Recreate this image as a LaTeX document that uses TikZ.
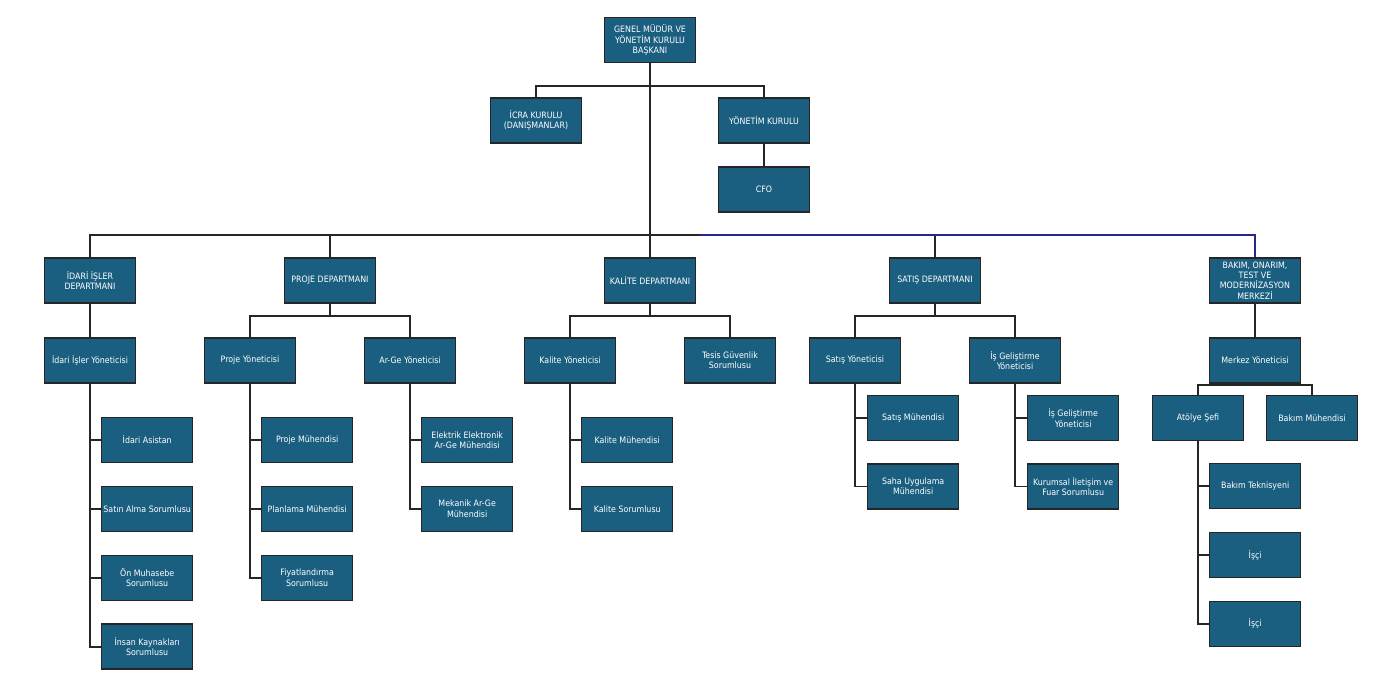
\documentclass[tikz,border=0pt]{standalone}
\usepackage{fontspec}
\setmainfont{DejaVu Sans Condensed}
\usepackage{xcolor}
\usepackage{tikz}
\usetikzlibrary{positioning,calc}
\definecolor{boxblue}{RGB}{26,94,128}
\definecolor{busnavy}{RGB}{40,40,140}
\tikzset{
  unit/.style={draw=black!85, line width=0.8pt, fill=boxblue, text=white, align=center,
    minimum width=1.82cm, minimum height=0.9cm, inner sep=0.5pt, font=\fontsize{5.0}{5.9}\selectfont},
  link/.style={line width=1pt, draw=black!85},
  navylink/.style={line width=1pt, draw=busnavy},
}

\begin{document}
\begin{tikzpicture}[x=0.02cm, y=-0.02cm, node distance=0.45cm]
\useasboundingbox (0,0) rectangle (1400,694);
% top level
\node[unit] (gm) at (650,40) {GENEL MÜDÜR VE\\YÖNETİM KURULU\\BAŞKANI};
\node[unit] (icra) at (536,120.5) {İCRA KURULU\\(DANIŞMANLAR)};
\node[unit] (yk) at (764,120.5) {YÖNETİM KURULU};
\node[unit, below=of yk] (cfo) {CFO};
% departments
\node[unit] (idari) at (90,280.5) {İDARİ İŞLER\\DEPARTMANI};
\node[unit] (proje) at (330,280.5) {PROJE DEPARTMANI};
\node[unit] (kalite) at (650,280.5) {KALİTE DEPARTMANI};
\node[unit] (satis) at (935,280.5) {SATIŞ DEPARTMANI};
\node[unit] (bakim) at (1255,280.5) {BAKIM, ONARIM,\\TEST VE\\MODERNİZASYON\\MERKEZİ};
% managers
\node[unit] (idariy) at (90,360.5) {İdari İşler Yöneticisi};
\node[unit] (projey) at (250,360.5) {Proje Yöneticisi};
\node[unit] (argey) at (410,360.5) {Ar-Ge Yöneticisi};
\node[unit] (kalitey) at (570,360.5) {Kalite Yöneticisi};
\node[unit] (tesis) at (730,360.5) {Tesis Güvenlik\\Sorumlusu};
\node[unit] (satisy) at (855,360.5) {Satış Yöneticisi};
\node[unit] (isgy) at (1015,360.5) {İş Geliştirme\\Yöneticisi};
\node[unit] (merkez) at (1255,360.5) {Merkez Yöneticisi};
\node[unit] (atolye) at (1198,418) {Atölye Şefi};
\node[unit] (bakimm) at (1312,418) {Bakım Mühendisi};
% staff
\node[unit, anchor=west] (idari1) at (101,440) {İdari Asistan};
\node[unit, below=of idari1] (idari2) {Satın Alma Sorumlusu};
\node[unit, below=of idari2] (idari3) {Ön Muhasebe\\Sorumlusu};
\node[unit, below=of idari3] (idari4) {İnsan Kaynakları\\Sorumlusu};
\node[unit, anchor=west] (proje1) at (261,440) {Proje Mühendisi};
\node[unit, below=of proje1] (proje2) {Planlama Mühendisi};
\node[unit, below=of proje2] (proje3) {Fiyatlandırma\\Sorumlusu};
\node[unit, anchor=west] (arge1) at (421,440) {Elektrik Elektronik\\Ar-Ge Mühendisi};
\node[unit, below=of arge1] (arge2) {Mekanik Ar-Ge\\Mühendisi};
\node[unit, anchor=west] (kalite1) at (581,440) {Kalite Mühendisi};
\node[unit, below=of kalite1] (kalite2) {Kalite Sorumlusu};
\node[unit, anchor=west] (satis1) at (867,418) {Satış Mühendisi};
\node[unit, below=0.44cm of satis1] (satis2) {Saha Uygulama\\Mühendisi};
\node[unit, anchor=west] (isg1) at (1027,418) {İş Geliştirme\\Yöneticisi};
\node[unit, below=0.44cm of isg1] (isg2) {Kurumsal İletişim ve\\Fuar Sorumlusu};
\node[unit, anchor=west] (atolye1) at (1209,486) {Bakım Teknisyeni};
\node[unit, below=of atolye1] (atolye2) {İşçi};
\node[unit, below=of atolye2] (atolye3) {İşçi};
% connectors
\coordinate (bus) at (650,235);
\coordinate (busmid) at (700,235);
\draw[link] (icra.north) -- ++(0,-11) -| (yk.north);
\draw[link] (yk) -- (cfo);
\draw[link] (gm.south) -- (bus) -- (kalite.north);
\draw[link] (idari.north) |- (busmid);
\draw[link] (proje.north) -- (proje.north |- bus);
\draw[link] (satis.north) -- (satis.north |- bus);
\draw[navylink] (busmid) -| (bakim.north);
\draw[link] (idari) -- (idariy);
\draw[link] (bakim) -- (merkez);
\draw[link] (proje.south) -- ++(0,12) -| (projey.north);
\draw[link] (proje.south) -- ++(0,12) -| (argey.north);
\draw[link] (kalite.south) -- ++(0,12) -| (kalitey.north);
\draw[link] (kalite.south) -- ++(0,12) -| (tesis.north);
\draw[link] (satis.south) -- ++(0,12) -| (satisy.north);
\draw[link] (satis.south) -- ++(0,12) -| (isgy.north);
\draw[link] (merkez.south) -- ++(0,1.5) -| (atolye.north);
\draw[link] (merkez.south) -- ++(0,1.5) -| (bakimm.north);
\foreach \c in {idari1,idari2,idari3,idari4} \draw[link] (idariy.south) |- (\c.west);
\foreach \c in {proje1,proje2,proje3} \draw[link] (projey.south) |- (\c.west);
\foreach \c in {arge1,arge2} \draw[link] (argey.south) |- (\c.west);
\foreach \c in {kalite1,kalite2} \draw[link] (kalitey.south) |- (\c.west);
\foreach \c in {satis1,satis2} \draw[link] (satisy.south) |- (\c.west);
\foreach \c in {isg1,isg2} \draw[link] (isgy.south) |- (\c.west);
\foreach \c in {atolye1,atolye2,atolye3} \draw[link] (atolye.south) |- (\c.west);
\end{tikzpicture}
\end{document}
